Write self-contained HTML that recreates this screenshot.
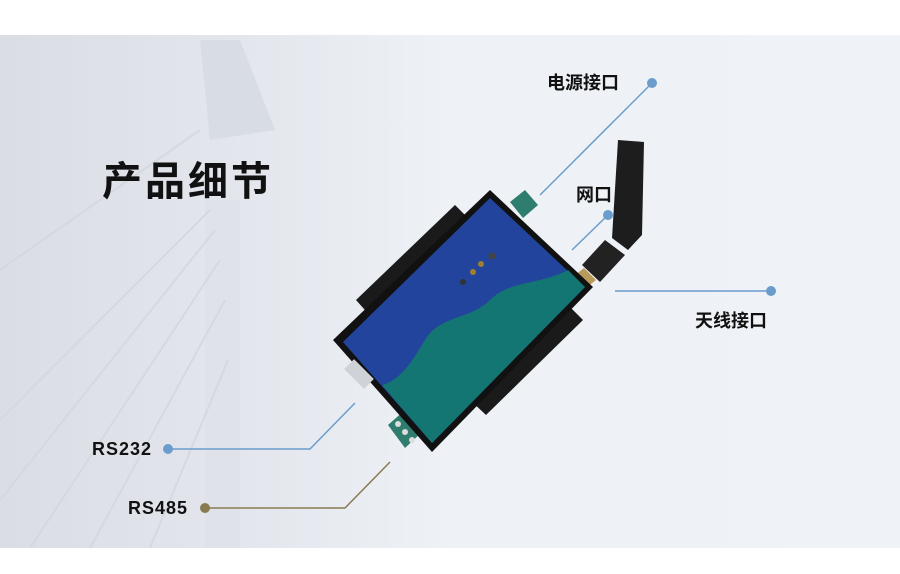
<!DOCTYPE html>
<html><head><meta charset="utf-8"><style>
html,body{margin:0;padding:0;background:#fff;}
#c{position:relative;width:900px;height:574px;overflow:hidden;background:#fff;font-family:"Liberation Sans","Noto Sans CJK SC",sans-serif;}
.t{position:absolute;font-weight:bold;color:#111;white-space:nowrap;line-height:1;}
</style></head><body><div id="c">
<svg width="900" height="574" style="position:absolute;left:0;top:0">
<defs>
<linearGradient id="bg" x1="0" y1="0" x2="1" y2="0">
<stop offset="0" stop-color="#dadee4"/><stop offset="0.3" stop-color="#e4e8ee"/><stop offset="0.5" stop-color="#eef1f6"/><stop offset="1" stop-color="#eff2f7"/>
</linearGradient>
</defs>
<rect x="0" y="35" width="900" height="513" fill="url(#bg)"/>
<polygon points="200,40 240,40 275,130 210,140" fill="#d3d8df" opacity="0.7"/>
<rect x="205" y="200" width="35" height="348" fill="#dfe3e9"/>
<g stroke="#d2d7de" stroke-width="2" opacity="0.8">
<line x1="0" y1="270" x2="200" y2="130"/><line x1="0" y1="420" x2="210" y2="210"/>
<line x1="0" y1="500" x2="215" y2="230"/><line x1="30" y1="548" x2="220" y2="260"/>
<line x1="90" y1="548" x2="225" y2="300"/><line x1="150" y1="548" x2="228" y2="360"/>
</g>
<g stroke="#6a9ccc" stroke-width="1.5" fill="none">
<polyline points="652,83 540,195"/>
<polyline points="608,215 572,250"/>
<polyline points="615,291 771,291"/>
<polyline points="168,449 310,449 355,403"/>
</g>
<polyline points="205,508 345,508 390,462" stroke="#8a7a50" stroke-width="1.5" fill="none"/>
<g fill="#6a9ccc"><circle cx="652" cy="83" r="5"/><circle cx="608" cy="215" r="5"/><circle cx="771" cy="291" r="5"/><circle cx="168" cy="449" r="5"/></g>
<circle cx="205" cy="508" r="5" fill="#8a7a50"/>
<!-- antenna -->
<polygon points="618,140 644,142 642,235 628,250 612,238" fill="#1d1d1d"/>
<polygon points="582,265 605,240 625,255 600,282" fill="#222"/>
<polygon points="574,276 584,268 596,280 586,288" fill="#b89b5a"/>
<!-- brackets -->
<polygon points="356,300 455,205 470,220 372,318" fill="#1a1a1a"/>
<polygon points="470,400 568,305 583,320 486,415" fill="#1a1a1a"/>
<polygon points="510,202 525,190 538,205 523,218" fill="#2e7d6e"/>
<polygon points="388,425 405,410 422,432 405,448" fill="#2e7d6e"/>
<circle cx="398" cy="424" r="3" fill="#ddd"/><circle cx="405" cy="432" r="3" fill="#ddd"/><circle cx="412" cy="440" r="3" fill="#ddd"/>
<!-- body -->
<polygon points="490,190 593,287 432,452 333,340" fill="#111"/>
<polygon points="490,198 585,287 432,443 343,342" fill="#22449c"/>
<path d="M568,270 C540,285 510,280 490,300 C470,320 440,315 425,340 C410,365 400,380 382,385 L432,443 L585,287 Z" fill="#137673"/>
<circle cx="463" cy="282" r="3" fill="#333"/><circle cx="473" cy="272" r="3" fill="#a08030"/><circle cx="481" cy="264" r="3" fill="#a08030"/><circle cx="492" cy="256" r="3.5" fill="#444"/>
<rect x="352" y="360" width="14" height="28" fill="#cfd3d8" transform="rotate(-45 359 374)"/>
</svg>
<div class="t" style="left:102px;top:162px;font-size:40px;letter-spacing:3px;">产品细节</div>
<div class="t" style="left:547px;top:74px;font-size:18px;">电源接口</div>
<div class="t" style="left:576px;top:186px;font-size:18px;">网口</div>
<div class="t" style="left:695px;top:312px;font-size:18px;">天线接口</div>
<div class="t" style="left:92px;top:440px;font-size:18px;letter-spacing:1px;">RS232</div>
<div class="t" style="left:128px;top:499px;font-size:18px;letter-spacing:1px;">RS485</div>
</div></body></html>
